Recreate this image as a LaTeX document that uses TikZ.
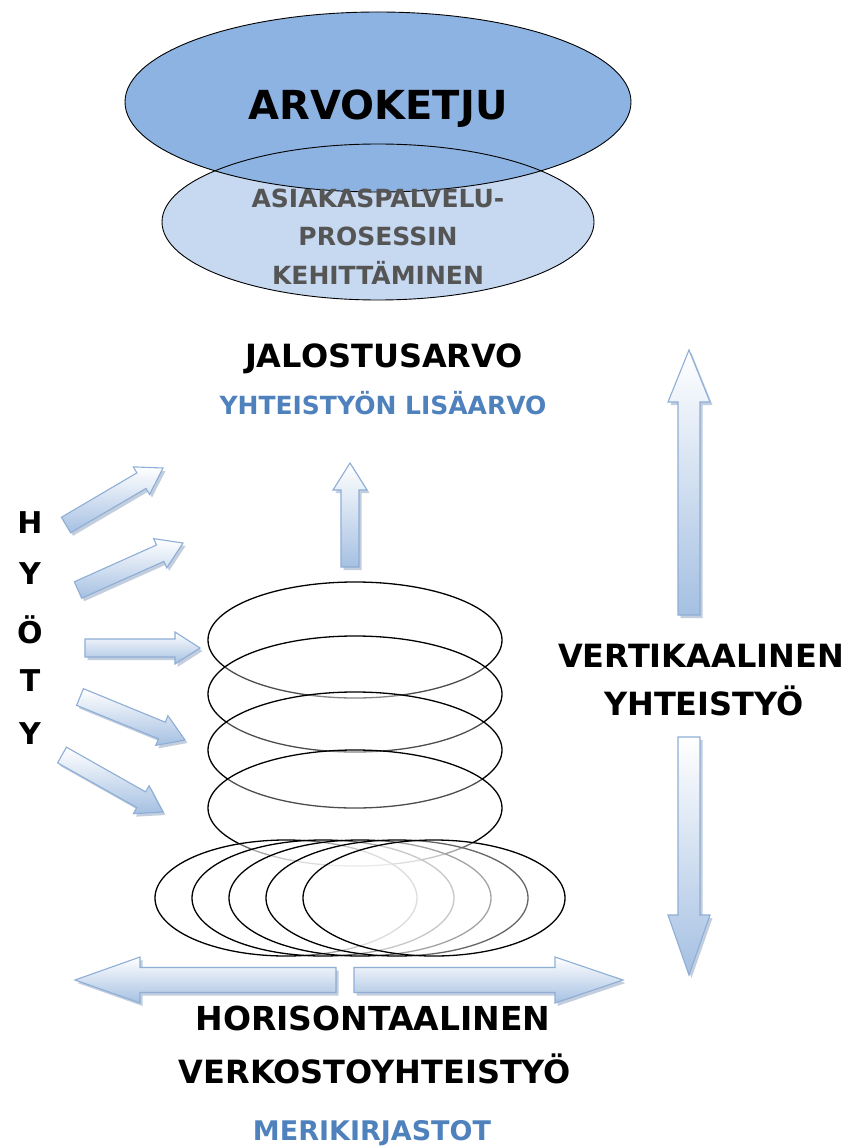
\documentclass[tikz,border=0pt]{standalone}
\usepackage{fontspec}
\setmainfont{DejaVu Sans}
\usetikzlibrary{calc}
\definecolor{topblue}{RGB}{141,179,226}
\definecolor{lowblue}{RGB}{198,217,241}
\definecolor{txtblue}{RGB}{79,129,189}
\definecolor{txtgray}{RGB}{85,85,85}
\definecolor{arrfill}{RGB}{165,192,226}
\definecolor{arrline}{RGB}{142,174,214}
\definecolor{arrshadow}{RGB}{120,145,180}
\tikzset{
  blocklook/.style={draw=arrline, line width=1.1pt, line join=miter, top color=white, bottom color=arrfill},
  shadowlook/.style={fill=arrshadow, opacity=0.45, transform canvas={shift={(2.5pt,-3pt)}}},
  ring/.style={draw=black, line width=1.3pt, fill=white, fill opacity=0.3},
  cluster/.style={draw=black, line width=1.3pt, fill=white, fill opacity=0.4},
  lbl/.style={anchor=base, inner sep=0pt, text=black, font=\bfseries},
}
% name, x1, y1, x2, y2, half shaft, half head, head length
\newcommand\arrowpath[3]{($(#1a)!#2pt!90:(#1b)$) -- ($(#1c)!#2pt!90:(#1b)$) -- ($(#1c)!#3pt!90:(#1b)$) -- (#1b) -- ($(#1c)!#3pt!-90:(#1b)$) -- ($(#1c)!#2pt!-90:(#1b)$) -- ($(#1a)!#2pt!-90:(#1b)$) -- cycle}
\newcommand\blockarrow[8]{%
  \coordinate (#1a) at (#2,#3);
  \coordinate (#1b) at (#4,#5);
  \coordinate (#1c) at ($(#1b)!#8pt!(#1a)$);
  \path[shadowlook] \arrowpath{#1}{#6}{#7};
  \path[blocklook] \arrowpath{#1}{#6}{#7};
}
\begin{document}
\begin{tikzpicture}[x=1pt,y=-1pt]
\useasboundingbox (0,0) rectangle (851,1147);
\fill[white] (0,0) rectangle (851,1147);

% top ellipses
\fill[lowblue] (378,222) ellipse[x radius=216, y radius=78];
\fill[topblue] (378,102) ellipse[x radius=253, y radius=90];
\draw[black, line width=0.9pt] (378,222) ellipse[x radius=216, y radius=78];
\draw[black, line width=0.9pt] (378,102) ellipse[x radius=253, y radius=90];
\node[lbl, font=\bfseries\fontsize{40}{40}\selectfont] (arvo) at (378,120) {ARVOKETJU};
\node[lbl, text=txtgray, font=\bfseries\fontsize{25}{25}\selectfont] (asi) at (378,208) {ASIAKASPALVELU-};
\node[lbl, text=txtgray, font=\bfseries\fontsize{25}{25}\selectfont] (pro) at (378,246) {PROSESSIN};
\node[lbl, text=txtgray, font=\bfseries\fontsize{25}{25}\selectfont] (keh) at (378,284) {KEHITTÄMINEN};

\node[lbl, font=\bfseries\fontsize{32}{32}\selectfont] (jal) at (384,367) {JALOSTUSARVO};
\node[lbl, text=txtblue, font=\bfseries\fontsize{25}{25}\selectfont] (yht) at (383,414) {YHTEISTYÖN LISÄARVO};

% HYÖTY
\foreach \ch/\yy [count=\i] in {H/533, Y/584, Ö/643, T/691, Y/744}
  \node[lbl, font=\bfseries\fontsize{30}{30}\selectfont] (h\i) at (30,\yy) {\ch};

% left arrows
\blockarrow{la1}{66}{525}{163}{468}{9}{16}{25}
\blockarrow{la2}{78}{590}{183}{543}{9}{16}{25}
\blockarrow{la3}{85}{648}{200}{648}{9}{16}{25}
\blockarrow{la4}{80}{697}{185}{740}{9}{16}{25}
\blockarrow{la5}{62}{755}{163}{812}{9}{16}{25}
% middle up arrow
\blockarrow{mu}{350}{567}{350}{463}{9}{17}{27}

% stack of rings
\foreach \yy [count=\i] in {640,694,750,808}
  \path[ring] (355,\yy) ellipse[x radius=147, y radius=58];
\foreach \xx [count=\i] in {286,323,360,397,434}
  \path[cluster] (\xx,898) ellipse[x radius=131, y radius=58];

% vertical arrows
\blockarrow{vu}{689}{615}{689}{350}{11}{21}{52}
\blockarrow{vd}{689}{737}{689}{975}{11}{21}{60}
\node[lbl, font=\bfseries\fontsize{32}{32}\selectfont] (vert) at (701,667) {VERTIKAALINEN};
\node[lbl, font=\bfseries\fontsize{32}{32}\selectfont] (vyht) at (704,715) {YHTEISTYÖ};

% horizontal arrows
\blockarrow{hl}{336}{980}{75}{980}{12.5}{23}{65}
\blockarrow{hr}{354}{980}{623}{980}{12.5}{23}{68}

\node[lbl, font=\bfseries\fontsize{33}{33}\selectfont] (hor) at (373,1030) {HORISONTAALINEN};
\node[lbl, font=\bfseries\fontsize{32}{32}\selectfont] (verk) at (375,1083) {VERKOSTOYHTEISTYÖ};
\node[lbl, text=txtblue, font=\bfseries\fontsize{27}{27}\selectfont] (meri) at (372,1140) {MERIKIRJASTOT};
\end{tikzpicture}
\end{document}
